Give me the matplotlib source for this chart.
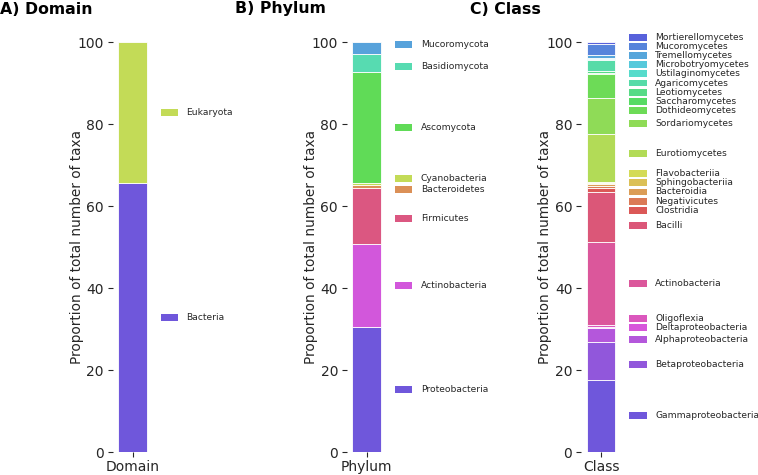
import colorsys
import numpy as np
import matplotlib
matplotlib.use("Agg")
import matplotlib.pyplot as plt
from matplotlib.patches import Rectangle

# proportions (%) of taxa, stacked bottom -> top
domain_names = ["Bacteria", "Eukaryota"]
domain_values = [65.6, 34.4]

phylum_names = ["Proteobacteria", "Actinobacteria", "Firmicutes", "Bacteroidetes",
                "Cyanobacteria", "Ascomycota", "Basidiomycota", "Mucoromycota"]
phylum_values = [30.4, 20.3, 13.8, 0.6, 0.6, 26.9, 4.5, 2.9]

class_names = ["Gammaproteobacteria", "Betaproteobacteria", "Alphaproteobacteria",
               "Deltaproteobacteria", "Oligoflexia", "Actinobacteria", "Bacilli",
               "Clostridia", "Negativicutes", "Bacteroidia", "Sphingobacteriia",
               "Flavobacteriia", "Eurotiomycetes", "Sordariomycetes", "Dothideomycetes",
               "Saccharomycetes", "Leotiomycetes", "Agaricomycetes", "Ustilaginomycetes",
               "Microbotryomycetes", "Tremellomycetes", "Mucoromycetes", "Mortierellomycetes"]
class_values = [17.6, 9.3, 3.3, 0.4, 0.3, 20.2, 12.4, 1.0, 0.4, 0.4, 0.3, 0.3,
                11.7, 8.7, 5.8, 0.4, 0.4, 2.7, 0.3, 0.3, 0.6, 2.6, 0.6]

W, H = 758, 475
TXT = "#262626"


def hls_colors(n, h0=0.697, l=0.6, s=0.65):
    return [colorsys.hls_to_rgb((h0 + i / n) % 1, l, s) for i in range(n)]


def spread_labels(anchors, reach=10.0, kr=0.16, gap=2.2, top=101.0, n_iter=3000):
    # soft 1D repel: springs to the anchors + linear push between close labels,
    # with a hard minimum gap and a cap at the top
    m = np.asarray(anchors, float)
    y = m.copy()
    n = len(y)
    idx = np.arange(n)
    order = np.sign(idx[None, :] - idx[:, None])
    for _ in range(n_iter):
        d = np.abs(y[None, :] - y[:, None])
        push = kr * np.clip(reach - d, 0, None)
        np.fill_diagonal(push, 0)
        f = (m - y) - (order * push).sum(axis=1)
        y = y + 0.15 * f
        y[-1] = min(y[-1], top)
        for i in range(n - 2, -1, -1):
            y[i] = min(y[i], y[i + 1] - gap)
        for i in range(1, n):
            y[i] = max(y[i], y[i - 1] + gap)
    return y


fig = plt.figure(figsize=(W / 100, H / 100), dpi=100)

panels = [
    ("A) Domain", "Domain", domain_names, domain_values, 132.6, 0),
    ("B) Phylum", "Phylum", phylum_names, phylum_values, 366.7, 235),
    ("C) Class", "Class", class_names, class_values, 601.0, 470),
]

ax_w = 39.2
for title, xlab, names, values, cx, tx in panels:
    ax = fig.add_axes([(cx - ax_w / 2) / W, (H - 452) / H, ax_w / W, 410 / H])
    cols = hls_colors(len(values))
    bottoms = np.concatenate([[0], np.cumsum(values)[:-1]])
    ax.bar([0] * len(values), values, width=0.8, bottom=bottoms, color=cols,
           edgecolor="white", linewidth=0.6)
    ax.set_xlim(-0.55, 0.55)
    ax.set_ylim(0, 100)
    ax.set_xticks([0])
    ax.set_xticklabels([xlab], fontsize=10, color=TXT)
    ax.set_yticks([0, 20, 40, 60, 80, 100])
    ax.tick_params(axis="y", labelsize=10, colors=TXT, length=3.5, width=0.8, pad=3)
    ax.tick_params(axis="x", colors=TXT, length=3.5, width=0.8, pad=2)
    for sp in ax.spines.values():
        sp.set_visible(False)
    ax.set_ylabel("Proportion of total number of taxa", fontsize=9.8, color=TXT)
    ax.yaxis.set_label_coords(-29 / ax_w, 0.5)

    mids = bottoms + np.array(values) / 2
    ys = spread_labels(mids)
    u = 0.8 / 28.5  # data units per pixel in x
    for name, c, y in zip(names, cols, ys):
        ax.add_patch(Rectangle((28 * u, y - 0.85), 17.7 * u, 1.7, facecolor=c,
                               edgecolor="none", clip_on=False))
        ax.text(54 * u, y, name, fontsize=6.6, color=TXT, va="center", ha="left",
                clip_on=False)

    fig.text(tx / W, 1 - 9 / H, title, fontsize=11.3, fontweight="bold",
             va="center", ha="left", color="black")

fig.savefig("out.png", dpi=100)
